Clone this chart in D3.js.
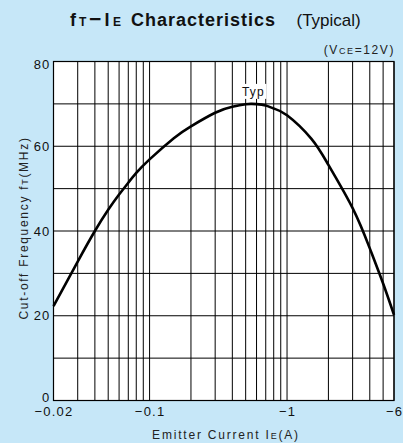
<!DOCTYPE html>
<html>
<head>
<meta charset="utf-8">
<script src="https://cdn.jsdelivr.net/npm/d3@7"></script>
<style>
  body { margin: 0; background: #c6e7f8; }
  svg { display: block; font-family: "Liberation Sans", Arial, sans-serif; }
</style>
</head>
<body>
<div id="chart"></div>
<script>
// emitter current magnitude (A) and cut-off frequency (MHz)
var currents = [0.02, 0.03, 0.04, 0.05, 0.06, 0.07, 0.08, 0.1, 0.15, 0.2, 0.3, 0.4, 0.5, 0.55, 0.6, 0.7, 0.8, 1, 1.5, 2, 3, 4, 5, 6];
var freqs    = [22.3, 32.8, 40, 45, 48.6, 51.4, 53.7, 56.9, 61.9, 64.7, 67.9, 69.3, 69.9, 70, 69.95, 69.6, 68.9, 67.3, 61.8, 55.6, 45.4, 35.9, 27.6, 20.2];
var xGridTicks = [0.02, 0.03, 0.04, 0.05, 0.06, 0.07, 0.08, 0.09, 0.1, 0.2, 0.3, 0.4, 0.5, 0.6, 0.7, 0.8, 0.9, 1, 2, 3, 4, 5, 6];
var xTickLabels = [0.02, 0.1, 1, 6];
var yGridTicks = [0, 10, 20, 30, 40, 50, 60, 70, 80];
var yTickLabels = [0, 20, 40, 60, 80];

var W = 403, H = 443;
var margin = { top: 61.5, right: 9, bottom: 42.5, left: 53.5 };
var width = W - margin.left - margin.right;
var height = H - margin.top - margin.bottom;

var svg = d3.select('#chart').append('svg')
  .attr('width', W)
  .attr('height', H);

// title, pieces placed one by one
var title = svg.append('text')
  .attr('y', 25.5)
  .style('font-size', '18px')
  .style('font-weight', 'bold')
  .style('fill', '#111');
title.append('tspan').attr('x', 70).text('f');
title.append('tspan').attr('x', 79).style('font-size', '12px').text('T');
title.append('tspan').attr('x', 89).style('font-size', '21px').text('\u2212');
title.append('tspan').attr('x', 104.5).text('I');
title.append('tspan').attr('x', 113).style('font-size', '12px').text('E');
title.append('tspan')
  .attr('x', 131)
  .style('letter-spacing', '1px')
  .text('Characteristics');
title.append('tspan')
  .attr('x', 296.5)
  .style('font-size', '17px')
  .style('font-weight', 'normal')
  .text('(Typical)');

// condition note
var cond = svg.append('text')
  .attr('x', margin.left + width + 1)
  .attr('y', 54)
  .attr('text-anchor', 'end')
  .style('font-size', '12px')
  .style('letter-spacing', '1.6px')
  .style('fill', '#222');
cond.append('tspan').text('(V');
cond.append('tspan').style('font-size', '9px').text('CE');
cond.append('tspan').text('=12V)');

var x = d3.scaleLog()
  .domain([0.02, 6])
  .range([0, width]);

var y = d3.scaleLinear()
  .domain([0, 80])
  .range([height, 0]);

var g = svg.append('g')
  .attr('transform', 'translate(' + margin.left + ',' + margin.top + ')');

g.append('rect')
  .attr('width', width)
  .attr('height', height)
  .attr('fill', '#fff');

// grid
g.selectAll('.vgrid').data(xGridTicks)
  .enter().append('line')
    .attr('x1', function(d) { return x(d); })
    .attr('x2', function(d) { return x(d); })
    .attr('y1', 0)
    .attr('y2', height)
    .attr('stroke', '#000')
    .attr('stroke-width', 1);

g.selectAll('.hgrid').data(yGridTicks)
  .enter().append('line')
    .attr('x1', 0)
    .attr('x2', width)
    .attr('y1', function(d) { return y(d); })
    .attr('y2', function(d) { return y(d); })
    .attr('stroke', '#000')
    .attr('stroke-width', 1);

g.append('rect')
  .attr('width', width)
  .attr('height', height)
  .attr('fill', 'none')
  .attr('stroke', '#000')
  .attr('stroke-width', 1.2);

// axes (labels only, the frame carries the lines)
var xAxis = d3.axisBottom(x)
  .tickValues(xTickLabels)
  .tickSize(0)
  .tickPadding(6)
  .tickFormat(function(d) { return '\u2212' + d; });

var yAxis = d3.axisLeft(y)
  .tickValues(yTickLabels)
  .tickSize(0)
  .tickPadding(3)
  .tickFormat(d3.format('d'));

var xg = g.append('g')
  .attr('transform', 'translate(0,' + height + ')')
  .call(xAxis);
var yg = g.append('g').call(yAxis);

[xg, yg].forEach(function(ax) {
  ax.select('.domain').remove();
  ax.selectAll('text')
    .style('font-family', '"Liberation Sans", Arial, sans-serif')
    .style('font-size', '13px')
    .style('letter-spacing', '1.2px')
    .style('fill', '#111');
});

// first and last y labels sit inside the frame
yg.selectAll('text')
  .attr('dy', function(d) { return d === 0 ? '0.1em' : d === 80 ? '0.55em' : '0.32em'; });

// curve
var line = d3.line()
  .x(function(d, i) { return x(currents[i]); })
  .y(function(d) { return y(d); })
  .curve(d3.curveNatural);

g.append('path')
  .datum(freqs)
  .attr('d', line)
  .attr('fill', 'none')
  .attr('stroke', '#000')
  .attr('stroke-width', 2.6);

// "Typ" label on a white patch
var typX = x(0.57), typY = y(70) - 8;
g.append('rect')
  .attr('x', typX - 13)
  .attr('y', typY - 12)
  .attr('width', 26)
  .attr('height', 15)
  .attr('fill', '#fff');
g.append('text')
  .attr('x', typX)
  .attr('y', typY)
  .attr('text-anchor', 'middle')
  .style('font-size', '12px')
  .style('letter-spacing', '1.2px')
  .style('fill', '#111')
  .text('Typ');

// axis titles
var xt = svg.append('text')
  .attr('x', 226)
  .attr('y', 439)
  .attr('text-anchor', 'middle')
  .style('font-size', '12px')
  .style('letter-spacing', '1.8px')
  .style('fill', '#222');
xt.append('tspan').text('Emitter Current I');
xt.append('tspan').style('font-size', '9px').text('E');
xt.append('tspan').text('(A)');

var yt = svg.append('text')
  .attr('transform', 'translate(28,228) rotate(-90)')
  .attr('text-anchor', 'middle')
  .style('font-size', '12px')
  .style('letter-spacing', '1.7px')
  .style('fill', '#222');
yt.append('tspan').text('Cut-off Frequency f');
yt.append('tspan').style('font-size', '9px').text('T');
yt.append('tspan').text('(MHz)');
</script>
</body>
</html>
